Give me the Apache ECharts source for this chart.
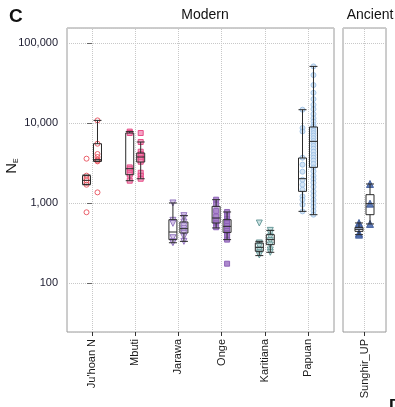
<!DOCTYPE html>
<html><head><meta charset="utf-8">
<script src="https://cdn.jsdelivr.net/npm/echarts@6/dist/echarts.min.js"></script>
<style>html,body{margin:0;padding:0;background:#fff}#c{width:395px;height:407px}</style>
</head><body><div id="c"></div>
<script>
// ---- data ----
const populations = ["Ju'hoan N", "Mbuti", "Jarawa", "Onge", "Karitiana", "Papuan"];
const ancient = ["Sunghir_UP"];
// box stats [min, Q1, median, Q3, max]; A = left box, B = right box
const boxA = [
  [1700, 1720, 1930, 2210, 2250],
  [1910, 2270, 2700, 7540, 7850],
  [320, 350, 436, 622, 1006],
  [490, 565, 653, 912, 1106],
  [221, 250, 280, 318, 333],
  [790, 1405, 2024, 3670, 14750]
];
const boxB = [
  [3330, 3350, 3500, 5540, 10840],
  [2020, 3270, 3780, 4240, 5820],
  [333, 424, 480, 582, 698],
  [350, 431, 513, 622, 776],
  [243, 303, 350, 404, 457],
  [718, 2803, 5925, 8965, 51300]
];
const ancientBoxA = [[404, 444, 470, 498, 566]];
const ancientBoxB = [[550, 718, 986, 1277, 1738]];
// individual estimates
const juhoanA = [3600, 2210, 2050, 1930, 1800, 1700, 770];
const juhoanB = [10840, 5540, 4120, 3780, 3500, 3400, 3330, 1365];
const mbutiA = [7850, 7540, 2800, 2650, 2400, 2270, 1910];
const mbutiB = [7540, 5820, 4400, 4100, 3900, 3700, 3500, 3300, 2400, 2200, 2020];
const jarawaA = [1006, 610, 560, 370, 330, 320];
const jarawaB = [698, 650, 580, 520, 480, 450, 420, 380, 333];
const ongeA = [1106, 960, 800, 680, 600, 560, 500];
const ongeB = [776, 700, 640, 600, 560, 520, 480, 450, 420, 390, 350, 175];
const karitianaA = [565, 318, 290, 260, 240, 225];
const karitianaB = [457, 420, 380, 340, 300, 260, 243];
const papuanA = [14750, 8710, 7900, 3705, 3030, 2475, 1966, 1703, 1475, 1216, 1106, 958, 790];
const papuanB = [51300, 40000, 30000, 24000, 20000, 17000, 15000, 13000, 11500, 10500, 9500, 9000, 8500, 8000,
  7500, 7000, 6500, 6000, 5600, 5200, 4800, 4400, 4000, 3700, 3400, 3100, 2800, 2500, 2200, 2000, 1800, 1600,
  1400, 1250, 1100, 1000, 900, 800, 718];
const sunghirA = [566, 540, 420, 404];
const sunghirB = [1738, 986, 550];

// ---- styles ----
const FONT = 'Liberation Sans';
const off = 0.127, offAnc = 0.256;
const markerStyles = [
  {symbol: 'circle', size: 5, rot: 0, fill: 'rgba(255,255,255,0)', stroke: '#e8505c'},
  {symbol: 'rect', size: 5, rot: 0, fill: '#f49ac0', stroke: '#e4407e'},
  {symbol: 'triangle', size: 6, rot: 180, fill: '#d6c6ea', stroke: '#8c6cba'},
  {symbol: 'rect', size: 5, rot: 0, fill: '#a47cc8', stroke: '#8a5cb4'},
  {symbol: 'triangle', size: 6, rot: 180, fill: '#c4dede', stroke: '#5f9494'},
  {symbol: 'circle', size: 5, rot: 0, fill: '#cfe2f5', stroke: '#9cc0e4'}
];
const ancStyle = {symbol: 'triangle', size: 7, rot: 0, fill: '#4d6cae', stroke: '#3f5c9c'};
const ptsA = [juhoanA, mbutiA, jarawaA, ongeA, karitianaA, papuanA];
const ptsB = [juhoanB, mbutiB, jarawaB, ongeB, karitianaB, papuanB];

const boxStyle = {color: 'rgba(255,255,255,0)', borderColor: '#2a2a2a', borderWidth: 1};
const splitDot = {show: true, lineStyle: {color: '#c8c8c8', type: 'dotted', width: 1}};
const vLine = {silent: true, symbol: ['none', 'none'], label: {show: false},
  lineStyle: {color: '#c8c8c8', type: 'dotted', width: 1}};

function scatter(xi, yi, data, st) {
  return {
    type: 'scatter', xAxisIndex: xi, yAxisIndex: yi, data: data,
    symbol: st.symbol, symbolSize: st.size, symbolRotate: st.rot, z: 4,
    itemStyle: {color: st.fill, borderColor: st.stroke, borderWidth: 1, opacity: 0.9}, silent: true
  };
}

const modernBoxes = [];
populations.forEach((p, i) => {
  modernBoxes.push([i - off].concat(boxA[i]));
  modernBoxes.push([i + off].concat(boxB[i]));
});
const ancientBoxes = [];
ancient.forEach((p, i) => {
  ancientBoxes.push([i - offAnc].concat(ancientBoxA[i]));
  ancientBoxes.push([i + offAnc].concat(ancientBoxB[i]));
});

const series = [
  {type: 'boxplot', xAxisIndex: 0, yAxisIndex: 0, boxWidth: [8, 8], itemStyle: boxStyle, z: 6,
   data: modernBoxes,
   markLine: Object.assign({}, vLine, {z: 1, data: populations.map((p, i) => ({xAxis: i}))})},
  {type: 'boxplot', xAxisIndex: 1, yAxisIndex: 1, boxWidth: [8, 8], itemStyle: boxStyle, z: 6,
   data: ancientBoxes,
   markLine: Object.assign({}, vLine, {z: 1, data: ancient.map((p, i) => ({xAxis: i}))})}
];
populations.forEach((p, i) => {
  series.push(scatter(0, 0, ptsA[i].map(v => [i - off, v]), markerStyles[i]));
  series.push(scatter(0, 0, ptsB[i].map(v => [i + off, v]), markerStyles[i]));
});
series.push(scatter(1, 1, sunghirA.map(v => [0 - offAnc, v]), ancStyle));
series.push(scatter(1, 1, sunghirB.map(v => [0 + offAnc, v]), ancStyle));

const yBase = {
  type: 'log', min: 24.5, max: 155000, logBase: 10,
  axisLine: {show: false}, splitLine: splitDot
};

const option = {
  animation: false,
  backgroundColor: '#fff',
  textStyle: {fontFamily: FONT},
  title: [
    {text: 'C', left: 4, top: 2, textStyle: {fontFamily: FONT, fontSize: 19, fontWeight: 'bold', color: '#111'}},
    {text: 'Modern', left: 200, top: 3, textAlign: 'center', textStyle: {fontFamily: FONT, fontSize: 14, fontWeight: 'normal', color: '#111'}},
    {text: 'Ancient', left: 365, top: 3, textAlign: 'center', textStyle: {fontFamily: FONT, fontSize: 14, fontWeight: 'normal', color: '#111'}}
  ],
  grid: [
    {left: 67, top: 28, width: 267, height: 304, show: true, borderColor: '#9a9a9a', borderWidth: 1, backgroundColor: '#fff'},
    {left: 343, top: 28, width: 43, height: 304, show: true, borderColor: '#9a9a9a', borderWidth: 1, backgroundColor: '#fff'}
  ],
  xAxis: [
    {type: 'value', gridIndex: 0, min: -0.579, max: 5.602,
     axisLine: {show: false}, splitLine: {show: false},
     axisTick: {show: true, length: 4, customValues: [0, 1, 2, 3, 4, 5], lineStyle: {color: '#333'}},
     axisLabel: {customValues: [0, 1, 2, 3, 4, 5], rotate: 90, margin: 7, fontSize: 11, color: '#1a1a1a', fontFamily: FONT,
       formatter: v => populations[Math.round(v)] || ''}},
    {type: 'value', gridIndex: 1, min: -1, max: 1,
     axisLine: {show: false}, splitLine: {show: false},
     axisTick: {show: true, length: 4, customValues: [0], lineStyle: {color: '#333'}},
     axisLabel: {customValues: [0], rotate: 90, margin: 7, fontSize: 11, color: '#1a1a1a', fontFamily: FONT,
       formatter: v => ancient[Math.round(v)] || ''}}
  ],
  yAxis: [
    Object.assign({}, yBase, {gridIndex: 0,
      axisTick: {show: true, length: 5, lineStyle: {color: '#666'}},
      axisLabel: {showMinLabel: false, showMaxLabel: false, margin: 9, fontSize: 11, color: '#1a1a2e', fontFamily: FONT,
        formatter: v => Math.round(v).toLocaleString('en-US')}}),
    Object.assign({}, yBase, {gridIndex: 1, axisTick: {show: false}, axisLabel: {show: false}})
  ],
  graphic: [
    {type: 'text', x: 12, y: 166, rotation: Math.PI / 2,
     style: {text: '{n|N}{e|E}', textAlign: 'center', textVerticalAlign: 'middle',
       rich: {n: {fontSize: 15, fontFamily: FONT, fill: '#111'}, e: {fontSize: 7, fontFamily: FONT, fill: '#111', verticalAlign: 'bottom', padding: [6, 0, 0, 0]}}}},
    {type: 'text', x: 389, y: 398,
     style: {text: 'D', fontSize: 17, fontWeight: 'bold', fontFamily: FONT, fill: '#111'}}
  ],
  series: series
};
const chart = echarts.init(document.getElementById('c'), null, {renderer: 'canvas'});
chart.setOption(option);
</script></body></html>
